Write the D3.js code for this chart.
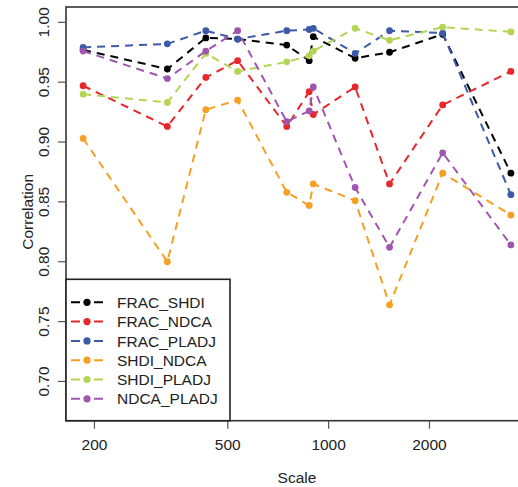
<!DOCTYPE html>
<html><head><meta charset="utf-8">
<script src="https://cdn.jsdelivr.net/npm/d3@7"></script>
<style>
body{margin:0;background:#fff;}
svg{display:block;font-family:"Liberation Sans",Arial,sans-serif;}
</style></head>
<body>
<svg id="chart" width="518" height="487"></svg>
<script>
// ---- data ----
const scales = [185, 330, 430, 535, 750, 875, 900, 1200, 1520, 2190, 3500];
const FRAC_SHDI  = [0.977, 0.961, 0.987, 0.986, 0.981, 0.968, 0.988, 0.970, 0.975, 0.990, 0.874];
const FRAC_NDCA  = [0.947, 0.913, 0.954, 0.968, 0.913, 0.942, 0.923, 0.946, 0.865, 0.931, 0.959];
const FRAC_PLADJ = [0.979, 0.982, 0.993, 0.986, 0.993, 0.994, 0.995, 0.974, 0.993, 0.991, 0.856];
const SHDI_NDCA  = [0.903, 0.800, 0.927, 0.935, 0.858, 0.847, 0.865, 0.851, 0.764, 0.874, 0.839];
const SHDI_PLADJ = [0.940, 0.933, 0.974, 0.959, 0.967, 0.972, 0.976, 0.995, 0.985, 0.996, 0.992];
const NDCA_PLADJ = [0.976, 0.953, 0.976, 0.993, 0.917, 0.926, 0.946, 0.862, 0.812, 0.891, 0.814];
const seriesNames = ["FRAC_SHDI", "FRAC_NDCA", "FRAC_PLADJ", "SHDI_NDCA", "SHDI_PLADJ", "NDCA_PLADJ"];
const seriesValues = [FRAC_SHDI, FRAC_NDCA, FRAC_PLADJ, SHDI_NDCA, SHDI_PLADJ, NDCA_PLADJ];
const seriesColors = ["#000000", "#e8262b", "#3c5aa8", "#f5a023", "#b4d454", "#9e57ad"];
const xTicks = [200, 500, 1000, 2000];
const yTicks = [0.70, 0.75, 0.80, 0.85, 0.90, 0.95, 1.00];
const yLim = [0.68, 1.00];

// ---- layout ----
const L = 66, R = 528, T = 7, B = 420.7;
const svg = d3.select("#chart");

// R-style 4% extension
const lx0 = Math.log10(d3.min(scales)), lx1 = Math.log10(d3.max(scales));
const ex = (lx1 - lx0) * 0.04;
const x = d3.scaleLog().domain([Math.pow(10, lx0 - ex), Math.pow(10, lx1 + ex)]).range([L, R]);
const ey = (yLim[1] - yLim[0]) * 0.04;
const y = d3.scaleLinear().domain([yLim[0] - ey, yLim[1] + ey]).range([B, T]);

const txt = "#222";
const fs = "15.5px";

// series
const line = d3.line().x(d => x(d[0])).y(d => y(d[1]));
seriesValues.forEach((vals, i) => {
  const pts = scales.map((s, j) => [s, vals[j]]);
  const g = svg.append("g");
  g.append("path").attr("d", line(pts)).attr("fill", "none")
    .attr("stroke", seriesColors[i]).attr("stroke-width", 2)
    .attr("stroke-dasharray", "8,6");
  g.selectAll("circle").data(pts).enter().append("circle")
    .attr("cx", d => x(d[0])).attr("cy", d => y(d[1])).attr("r", 3.4)
    .attr("fill", seriesColors[i]);
});

// box
svg.append("rect").attr("x", L).attr("y", T).attr("width", R - L).attr("height", B - T)
  .attr("fill", "none").attr("stroke", "#333").attr("stroke-width", 1.6);

// x axis
const xa = svg.append("g");
xTicks.forEach(t => {
  xa.append("line").attr("x1", x(t)).attr("x2", x(t)).attr("y1", B).attr("y2", B + 8)
    .attr("stroke", "#555").attr("stroke-width", 1.2);
  xa.append("text").attr("x", x(t)).attr("y", 450).attr("text-anchor", "middle")
    .attr("font-size", fs).attr("fill", txt).text(d3.format("d")(t));
});
svg.append("text").attr("x", (L + R) / 2).attr("y", 483).attr("text-anchor", "middle")
  .attr("font-size", fs).attr("fill", txt).text("Scale");

// y axis
const ya = svg.append("g");
yTicks.forEach(t => {
  ya.append("line").attr("x1", L - 8).attr("x2", L).attr("y1", y(t)).attr("y2", y(t))
    .attr("stroke", "#555").attr("stroke-width", 1.2);
  ya.append("text").attr("transform", `translate(49,${y(t)}) rotate(-90)`)
    .attr("text-anchor", "middle").attr("font-size", fs).attr("fill", txt)
    .text(d3.format(".2f")(t));
});
svg.append("text").attr("transform", `translate(33,${(T + B) / 2 - 2}) rotate(-90)`)
  .attr("text-anchor", "middle").attr("font-size", fs).attr("fill", txt).text("Correlation");

// legend
const lg = svg.append("g");
lg.append("rect").attr("x", L).attr("y", 279.3).attr("width", 230 - L).attr("height", B - 279.3)
  .attr("fill", "#fff").attr("stroke", "#222").attr("stroke-width", 1.6);
seriesNames.forEach((n, i) => {
  const cy = 302.3 + i * 19.3;
  lg.append("line").attr("x1", 71).attr("x2", 103).attr("y1", cy).attr("y2", cy)
    .attr("stroke", seriesColors[i]).attr("stroke-width", 2).attr("stroke-dasharray", "9,14,9");
  lg.append("circle").attr("cx", 87).attr("cy", cy).attr("r", 3.6).attr("fill", seriesColors[i]);
  lg.append("text").attr("x", 117).attr("y", cy + 5.6).attr("font-size", fs).attr("fill", txt).text(n);
});
</script>
</body></html>
